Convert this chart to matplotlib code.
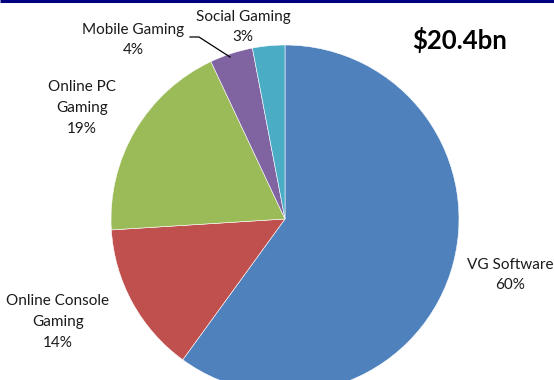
import matplotlib.pyplot as plt
from matplotlib.lines import Line2D

categories = ["VG Software", "Online Console\nGaming", "Online PC\nGaming",
              "Mobile Gaming", "Social Gaming"]
shares = [60, 14, 19, 4, 3]
colors = ["#4F81BD", "#C0504D", "#9BBB59", "#8064A2", "#4BACC6"]
total_label = "$20.4bn"

W, H = 554, 380
plt.rcParams["font.family"] = ["Lato", "DejaVu Sans"]

fig = plt.figure(figsize=(W / 100, H / 100), dpi=100)
ax = fig.add_axes([0, 0, 1, 1])

# pie in pixel space (y measured from the bottom)
cx, cy, r = 285, H - 219, 174
ax.pie(shares, colors=colors, startangle=90, counterclock=False,
       center=(cx, cy), radius=r, frame=True,
       wedgeprops=dict(linewidth=0.4, edgecolor="white"))
ax.set_xlim(0, W)
ax.set_ylim(0, H)
ax.set_aspect("equal")
ax.axis("off")

# label anchor points (pixels from top-left)
label_pos = [(510, 275), (58, 322), (82, 108), (133, 40), (243, 27)]
for name, val, (x, y) in zip(categories, shares, label_pos):
    ax.text(x, H - y, f"{name}\n{val}%", ha="center", va="center",
            fontsize=11, linespacing=1.6, color="#1a1a1a")

# leader line for the small mobile slice
lx = [190, 199, 230]
ly = [37, 37, 57]
ax.add_line(Line2D(lx, [H - v for v in ly], color="black", linewidth=0.9))

ax.text(460, H - 40, total_label, ha="center", va="center",
        fontsize=18.5, fontweight="bold", color="black")

# navy rule along the top edge
ax.add_line(Line2D([0, W], [H - 1, H - 1], color="#000080", linewidth=2.2,
                   solid_capstyle="butt"))

fig.savefig("out.png", dpi=100)
